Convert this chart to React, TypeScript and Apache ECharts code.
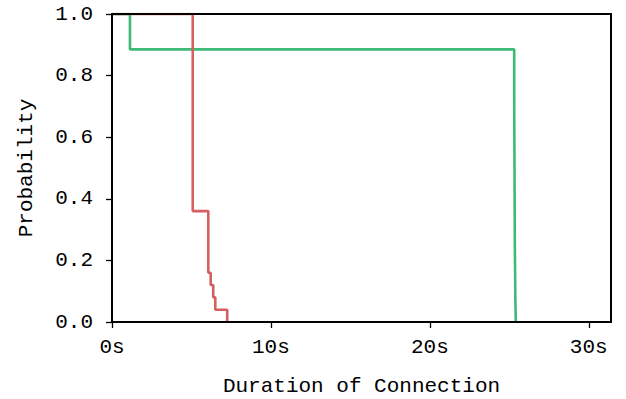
import React, { useEffect, useRef } from "react";
import * as echarts from "echarts";

const redSeries: [number, number][] = [
  [0, 1.0],
  [5.08, 0.36],
  [6.06, 0.16],
  [6.21, 0.12],
  [6.37, 0.08],
  [6.5, 0.04],
  [7.25, 0.0],
];

const greenSeries: [number, number][] = [
  [0, 1.0],
  [1.13, 0.885],
  [25.31, 0.72],
  [25.35, 0.24],
  [25.38, 0.08],
  [25.41, 0.0],
];

const xTicks = [0, 10, 20, 30];
const xMax = 31.4;
const yTicks = [0, 0.2, 0.4, 0.6, 0.8, 1.0];

const FONT = "Liberation Mono";
const FS = 21;

export default function App() {
  const ref = useRef<HTMLDivElement>(null);
  useEffect(() => {
    if (!ref.current) return;
    const chart = echarts.init(ref.current, undefined, { renderer: "svg" });
    const lineStyleAxis = { color: "#000", width: 2 };
    chart.setOption({
      animation: false,
      backgroundColor: "#fff",
      grid: {
        left: 112,
        right: 15,
        top: 14,
        bottom: 77,
        containLabel: false,
        outerBoundsMode: "none",
      },
      xAxis: [
        {
          type: "value",
          min: 0,
          max: xMax,
          z: 10,
          zlevel: 1,
          name: "Duration of Connection",
          nameLocation: "middle",
          nameGap: 54,
          nameTextStyle: { fontFamily: FONT, fontSize: FS, color: "#000" },
          axisLine: { show: true, onZero: false, lineStyle: lineStyleAxis },
          axisTick: { show: true, inside: false, length: 6, customValues: xTicks, lineStyle: { color: "#000", width: 1.3 } },
          axisLabel: {
            customValues: xTicks,
            formatter: (v: number) => `${v}s`,
            fontFamily: FONT,
            fontSize: FS,
            color: "#000",
            margin: 15,
          },
          splitLine: { show: false },
        },
        {
          type: "value",
          position: "top",
          min: 0,
          max: xMax,
          z: 10,
          zlevel: 1,
          axisLine: { show: true, onZero: false, lineStyle: lineStyleAxis },
          axisTick: { show: false },
          axisLabel: { show: false },
          splitLine: { show: false },
        },
      ],
      yAxis: [
        {
          type: "value",
          min: 0,
          max: 1,
          interval: 0.2,
          z: 10,
          zlevel: 1,
          name: "Probability",
          nameLocation: "middle",
          nameGap: 75,
          nameTextStyle: { fontFamily: FONT, fontSize: FS, color: "#000" },
          axisLine: { show: true, onZero: false, lineStyle: lineStyleAxis },
          axisTick: { show: true, inside: false, length: 6, customValues: yTicks, lineStyle: { color: "#000", width: 1.3 } },
          axisLabel: {
            customValues: yTicks,
            formatter: (v: number) => v.toFixed(1),
            fontFamily: FONT,
            fontSize: FS,
            color: "#000",
            margin: 19,
          },
          splitLine: { show: false },
        },
        {
          type: "value",
          position: "right",
          min: 0,
          max: 1,
          z: 10,
          zlevel: 1,
          axisLine: { show: true, onZero: false, lineStyle: lineStyleAxis },
          axisTick: { show: false },
          axisLabel: { show: false },
          splitLine: { show: false },
        },
      ],
      series: [
        {
          type: "line",
          data: greenSeries,
          step: "end",
          showSymbol: false,
          xAxisIndex: 0,
          yAxisIndex: 0,
          z: 1,
          lineStyle: { color: "#3dbb76", width: 2.6 },
          itemStyle: { color: "#3dbb76" },
          clip: true,
        },
        {
          type: "line",
          data: redSeries,
          step: "end",
          showSymbol: false,
          xAxisIndex: 0,
          yAxisIndex: 0,
          z: 1,
          lineStyle: { color: "#d65f5f", width: 2.6 },
          itemStyle: { color: "#d65f5f" },
          clip: true,
        },
      ],
    });
    return () => chart.dispose();
  }, []);
  return (
    <div
      ref={ref}
      style={{ position: "absolute", left: 0, top: 0, width: 626, height: 399 }}
    />
  );
}
